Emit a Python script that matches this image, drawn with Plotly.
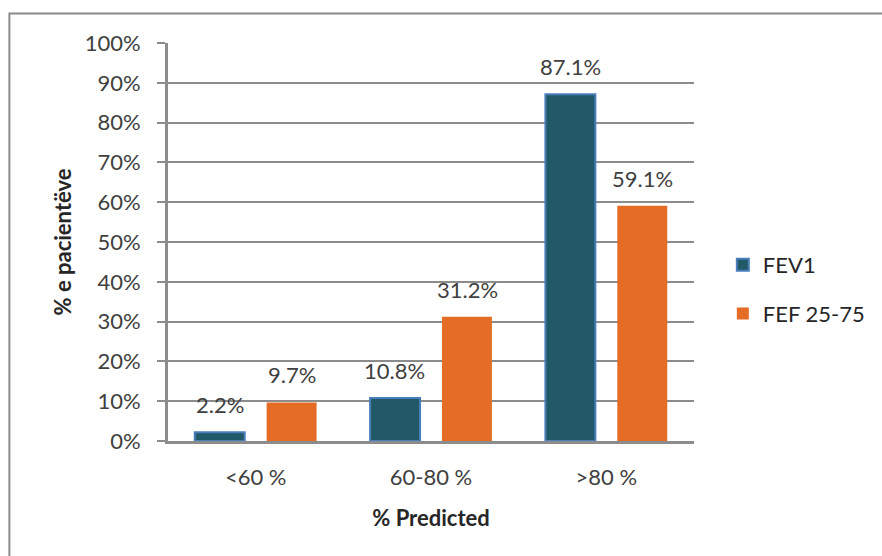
import plotly.graph_objects as go

# Spirometry results grouped by % predicted
categories = ["<60 %", "60-80 %", ">80 %"]
fev1 = [2.2, 10.8, 87.1]
fef2575 = [9.7, 31.2, 59.1]
series_names = ["FEV1", "FEF 25-75"]
y_ticks = [0, 10, 20, 30, 40, 50, 60, 70, 80, 90, 100]
y_tick_labels = [f"{v}%" for v in y_ticks]

FONT = "Lato, 'Open Sans', sans-serif"
TEXT = "#404040"
GRID = "#8c8c8c"
FEV_COLOR = "#215968"
FEF_COLOR = "#e46c24"

W, H = 882, 556
L, R, T, B = 168, 185, 43, 115
pw, ph = W - L - R, H - T - B

fig = go.Figure()
fig.add_trace(go.Bar(
    x=categories, y=fev1, name=series_names[0], legendgroup="a",
    marker=dict(color=FEV_COLOR, line=dict(color="#4a7ebb", width=2)),
))
fig.add_trace(go.Bar(
    x=categories, y=fef2575, name=series_names[1], legendgroup="b",
    marker=dict(color=FEF_COLOR, line=dict(color=FEF_COLOR, width=0)),
))

# value labels above each bar
slot_px = pw / len(categories) * (1 - 0.18) / 2
for vals, side in ((fev1, -1), (fef2575, 1)):
    for c, v in zip(categories, vals):
        fig.add_annotation(
            x=c, y=v, xref="x", yref="y", text=f"{v}%", showarrow=False,
            xshift=side * slot_px / 2, yanchor="bottom", yshift=12,
            font=dict(family=FONT, size=22, color=TEXT),
        )

# outer frame (top and left edges)
def px_x(p):
    return (p - L) / pw

def px_y(p):
    return (H - B - p) / ph

fig.add_shape(
    type="path", xref="paper", yref="paper",
    path=f"M {px_x(8.5)},{px_y(560)} L {px_x(8.5)},{px_y(13.5)} L {px_x(890)},{px_y(13.5)}",
    line=dict(color="#8a8a8a", width=2),
)

fig.update_layout(
    width=W, height=H,
    margin=dict(l=L, r=R, t=T, b=B),
    paper_bgcolor="white", plot_bgcolor="white",
    barmode="group", bargap=0.18, bargroupgap=0.305,
    font=dict(family=FONT, size=22, color=TEXT),
    legend=dict(
        x=px_x(726), xanchor="left", y=px_y(244), yanchor="top",
        font=dict(family=FONT, size=22, color="#262626"),
        tracegroupgap=17, bgcolor="rgba(0,0,0,0)",
    ),
    xaxis=dict(
        showline=True, linecolor=GRID, linewidth=3, ticks="",
        ticklabelstandoff=15,
        tickfont=dict(family=FONT, size=22, color=TEXT),
        title=dict(text="<b>% Predicted</b>", standoff=22,
                   font=dict(family=FONT, size=22, color="#262626")),
    ),
    yaxis=dict(
        range=[0, 100], tickvals=y_ticks, ticktext=y_tick_labels,
        showgrid=True, gridcolor=GRID, gridwidth=2,
        showline=True, linecolor=GRID, linewidth=3,
        ticks="outside", ticklen=8, tickcolor=GRID, tickwidth=2,
        ticklabelstandoff=12,
        tickfont=dict(family=FONT, size=22, color=TEXT),
        zeroline=False,
        title=dict(text="<b>% e pacientëve</b>", standoff=7,
                   font=dict(family=FONT, size=22, color="#262626")),
    ),
)

fig.write_html("out.html")
